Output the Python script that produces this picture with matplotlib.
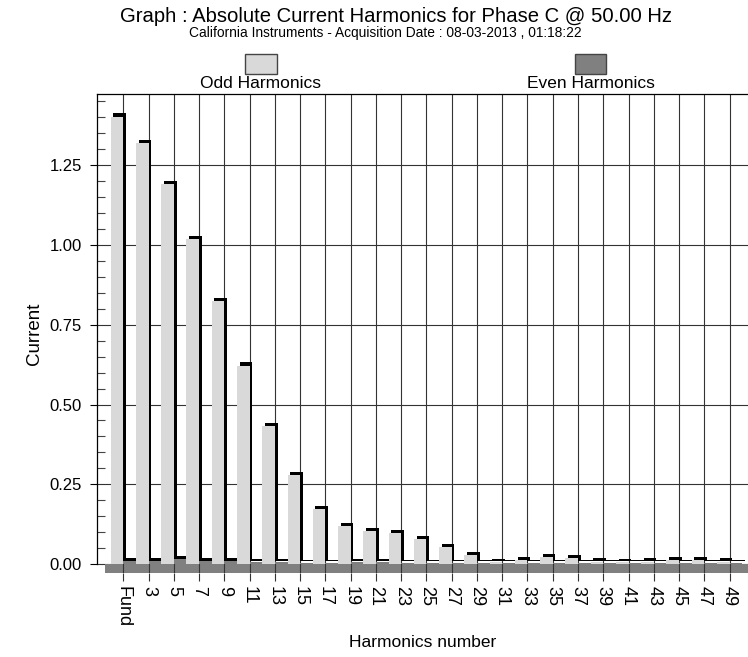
import matplotlib
matplotlib.use("Agg")
import matplotlib.pyplot as plt
import matplotlib.transforms as mtransforms
from matplotlib.patches import Rectangle
from matplotlib.ticker import FixedLocator

plt.rcParams['font.family'] = ['Liberation Sans', 'DejaVu Sans']

# harmonic amplitudes (A), fundamental first
odd_orders = [1, 3, 5, 7, 9, 11, 13, 15, 17, 19, 21, 23, 25, 27, 29,
              31, 33, 35, 37, 39, 41, 43, 45, 47, 49]
odd_current = [1.402, 1.319, 1.190, 1.019, 0.824, 0.622, 0.433, 0.278, 0.172, 0.119,
               0.104, 0.098, 0.079, 0.054, 0.027, 0.006, 0.013, 0.021, 0.018, 0.008,
               0.005, 0.008, 0.012, 0.012, 0.008]
even_orders = [2, 4, 6, 8, 10, 12, 14, 16, 18, 20, 22, 24, 26, 28, 30,
               32, 34, 36, 38, 40, 42, 44, 46, 48, 50]
even_current = [0.010, 0.010, 0.015, 0.010, 0.010, 0.005, 0.006, 0.004, 0.004, 0.006,
                0.005, 0.003, 0.003, 0.003, 0.003, 0.003, 0.003, 0.003, 0.003, 0.003,
                0.003, 0.003, 0.003, 0.003, 0.003]
tick_labels = ["Fund"] + [str(h) for h in odd_orders[1:]]

ODD_COL = "#d9d9d9"
EVEN_COL = "#808080"
GRID_COL = "#333333"

W, H = 748, 657
fig = plt.figure(figsize=(W / 100, H / 100), dpi=100)
ax = fig.add_axes([97.3 / W, 1 - 572.7 / H, (W - 97.3) / W, (572.7 - 94) / H])

y_bot, y_top = -0.027, 1.473
ax.set_xlim(-1.06, 50.46)
ax.set_ylim(y_bot, y_top)

# depth of the pseudo-3D bars
shade = mtransforms.offset_copy(ax.transData, fig=fig, x=2.7, y=3.2, units='dots')

for orders, vals, col in [(odd_orders, odd_current, ODD_COL),
                          (even_orders, even_current, EVEN_COL)]:
    xs = [h - 0.5 for h in orders]
    ax.bar(xs, vals, width=1.0, color="black", linewidth=0, zorder=3,
           transform=shade)
    ax.bar(xs, vals, width=1.0, color=col, linewidth=0, zorder=4)

# floor under the bars
ax.axhspan(y_bot, 0, xmin=(105 - 97.3) / (W - 97.3), xmax=1, color=EVEN_COL,
           linewidth=0, zorder=2)

# grid
for yv in [0, 0.25, 0.5, 0.75, 1.0, 1.25]:
    ax.axhline(yv, color=GRID_COL, lw=0.8, zorder=1)
for xv in odd_orders:
    ax.axvline(xv, color=GRID_COL, lw=0.8, zorder=2.5)

ax.set_xticks(odd_orders)
ax.set_xticklabels(tick_labels, rotation=270, fontsize=13)
ax.tick_params(axis='x', direction='out', length=5.8, width=0.8, color=GRID_COL, pad=4)

ax.set_yticks([0, 0.25, 0.5, 0.75, 1.0, 1.25])
ax.set_yticklabels(["0.00", "0.25", "0.50", "0.75", "1.00", "1.25"], fontsize=12)
ax.yaxis.set_minor_locator(FixedLocator([0.05 * k for k in range(1, 30) if k % 5]))
ax.tick_params(axis='y', which='major', direction='out', length=5, width=0.8, pad=6)
ax.tick_params(axis='y', which='minor', direction='in', length=5.8, width=0.8,
               color="#444444")

ax.spines['bottom'].set_visible(False)
ax.spines['right'].set_visible(False)
ax.spines['left'].set_bounds(0, y_top)
ax.spines['left'].set_linewidth(0.9)
ax.spines['top'].set_linewidth(0.9)

ax.set_ylabel("Current", fontsize=13.5)
ax.yaxis.set_label_coords((43 - 97.3) / (W - 97.3), 0.5)
ax.set_xlabel("Harmonics number", fontsize=12.5)
ax.xaxis.set_label_coords(0.5, (572.7 - 635) / (572.7 - 94))

# titles
fig.text(396 / W, 1 - 17 / H, "Graph : Absolute Current Harmonics for Phase C @ 50.00 Hz",
         ha='center', va='center', fontsize=14.6)
fig.text(385 / W, 1 - 33 / H,
         "California Instruments - Acquisition Date : 08-03-2013 , 01:18:22",
         ha='center', va='center', fontsize=9.9,
         family=['Liberation Sans Narrow', 'Liberation Sans', 'DejaVu Sans'])

# legend boxes above the plot
for cx, col, label in [(261, ODD_COL, "Odd Harmonics"), (590.5, EVEN_COL, "Even Harmonics")]:
    fig.patches.append(Rectangle(((cx - 15.5) / W, 1 - 74 / H), 31 / W, 19.7 / H,
                                 transform=fig.transFigure, facecolor=col,
                                 edgecolor="#444444", linewidth=1))
    fig.text(cx / W, 1 - 84 / H, label, ha='center', va='center', fontsize=12.5)

fig.savefig("out.png", dpi=100)
